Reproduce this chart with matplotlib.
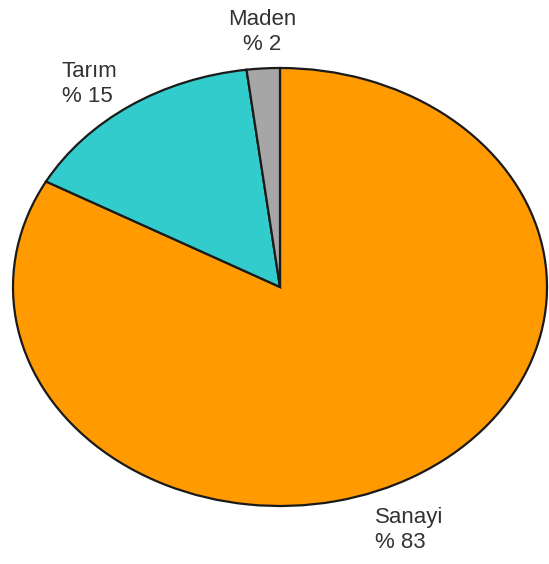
import matplotlib
matplotlib.use("Agg")
import matplotlib.pyplot as plt

labels = ["Sanayi", "Tarım", "Maden"]
values = [83, 15, 2]
colors = ["#FF9A00", "#33CCCC", "#A6A6A6"]

W, H = 549, 564
fig = plt.figure(figsize=(W / 100, H / 100), dpi=100)
plt.rcParams['font.family'] = ['Liberation Sans', 'DejaVu Sans']

# ellipse bounds in pixels
x0, x1, y0, y1 = 13, 547, 68, 506
ax = fig.add_axes([x0 / W, 1 - y1 / H, (x1 - x0) / W, (y1 - y0) / H])
ax.pie(values, colors=colors, startangle=90, counterclock=False,
       wedgeprops=dict(edgecolor="#1a1a1a", linewidth=1.6))
ax.set_aspect('auto')
ax.set_xlim(-1.0, 1.0)
ax.set_ylim(-1.0, 1.0)
ax.axis('off')

def px(x, y):
    return x / W, 1 - y / H

fs = 16
txt = dict(fontsize=fs, color="#333333", linespacing=1.2)
fig.text(*px(62, 84), f"{labels[1]}\n% {values[1]}", ha='left', va='center', **txt)
fig.text(*px(262, 32), f"{labels[2]}\n% {values[2]}", ha='center', va='center', **txt)
fig.text(*px(375, 530), f"{labels[0]}\n% {values[0]}", ha='left', va='center', **txt)

fig.savefig("out.png", dpi=100)
